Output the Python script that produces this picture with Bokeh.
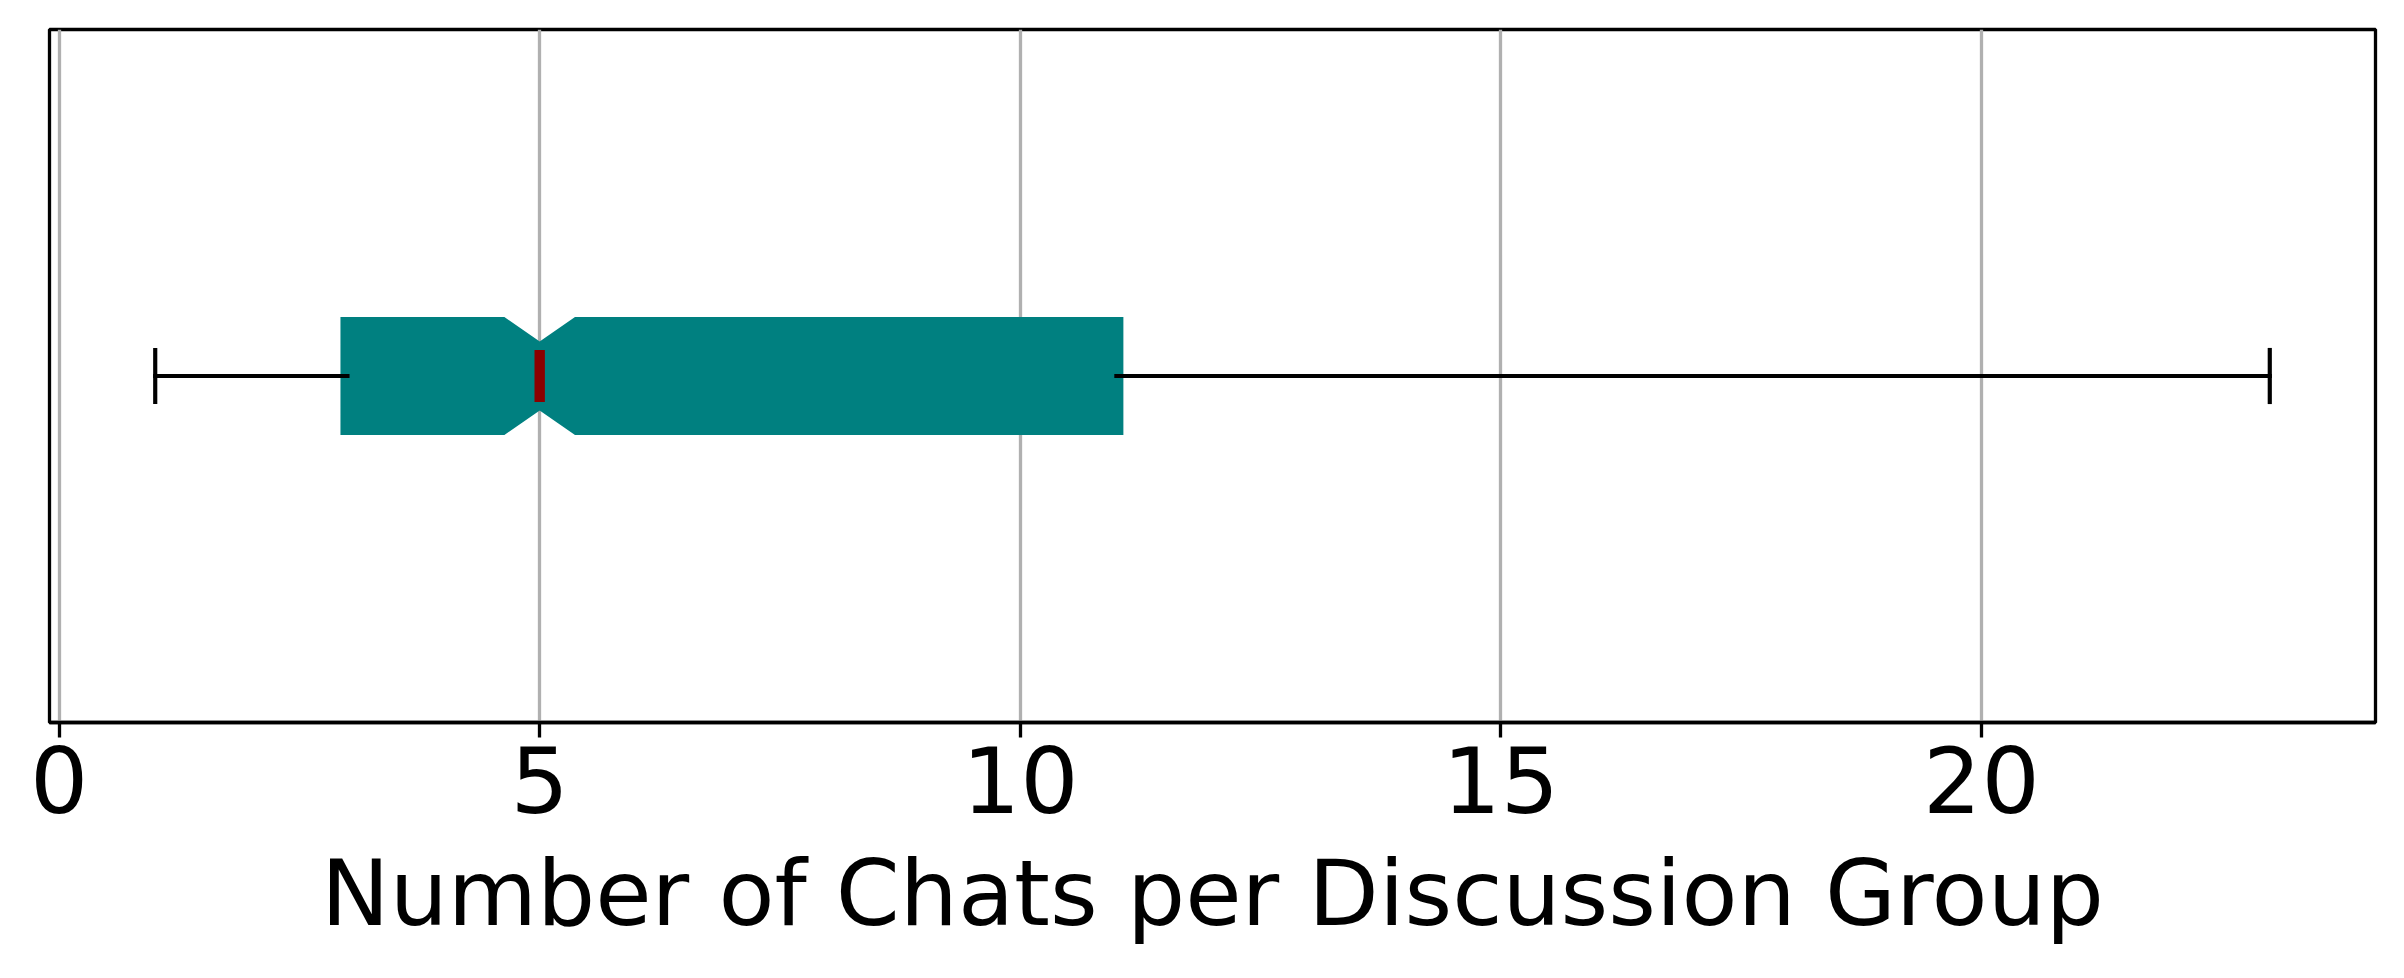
from bokeh.plotting import figure
from bokeh.models import Range1d, FixedTicker, ColumnDataSource
from bokeh.embed import file_html
from bokeh.resources import INLINE

# ---- data ----
positions = [1.0]
whisker_low = [1.0]
q1 = [3.0]
median = [5.0]
q3 = [11.0]
whisker_high = [23.0]
notch_low = [4.61]
notch_high = [5.39]
x_ticks = [0, 5, 10, 15, 20]
x_label = "Number of Chats per Discussion Group"

BOX_W = 0.15
HW = BOX_W / 2.0
QW = BOX_W / 4.0
FS = "91.67px"
FONT = "DejaVu Sans"

p = figure(width=2394, height=970,
           x_range=Range1d(-0.1, 24.1), y_range=Range1d(0.5, 1.5),
           output_backend="svg", toolbar_location=None,
           min_border_left=49, min_border_right=19,
           min_border_top=29, min_border_bottom=248)
p.background_fill_color = "white"
p.border_fill_color = "white"
p.outline_line_color = "black"
p.outline_line_width = 3.3
p.outline_line_alpha = 1.0

# notched box polygons built from the stats
xs, ys = [], []
for pos, a, lo, m, hi, b in zip(positions, q1, notch_low, median, notch_high, q3):
    xs.append([a, lo, m, hi, b, b, hi, m, lo, a])
    ys.append([pos - HW, pos - HW, pos - QW, pos - HW, pos - HW,
               pos + HW, pos + HW, pos + QW, pos + HW, pos + HW])
p.patches(xs=xs, ys=ys, fill_color="#008080", line_color="#008080",
          line_width=14, line_join="miter")

# whiskers
src = ColumnDataSource(dict(pos=positions, wl=whisker_low, q1=q1, med=median,
                            q3=q3, wh=whisker_high,
                            lo=[x - QW for x in positions],
                            hi=[x + QW for x in positions]))
p.segment(x0="q1", y0="pos", x1="wl", y1="pos", source=src,
          line_color="black", line_width=4.17, line_cap="square")
p.segment(x0="q3", y0="pos", x1="wh", y1="pos", source=src,
          line_color="black", line_width=4.17, line_cap="square")
# caps
p.segment(x0="wl", y0="lo", x1="wl", y1="hi", source=src,
          line_color="black", line_width=4.17, line_cap="square")
p.segment(x0="wh", y0="lo", x1="wh", y1="hi", source=src,
          line_color="black", line_width=4.17, line_cap="square")
# median
p.segment(x0="med", y0="lo", x1="med", y1="hi", source=src,
          line_color="#8B0000", line_width=10.4, line_cap="butt")

# grid
p.xgrid.ticker = FixedTicker(ticks=x_ticks)
p.xgrid.grid_line_color = "#b0b0b0"
p.xgrid.grid_line_width = 3.3
p.ygrid.visible = False

# axes
p.yaxis.visible = False
ax = p.xaxis[0]
ax.ticker = FixedTicker(ticks=x_ticks)
ax.axis_label = x_label
ax.axis_label_text_font = FONT
ax.axis_label_text_font_size = FS
ax.axis_label_text_font_style = "normal"
ax.axis_label_text_color = "black"
ax.axis_label_standoff = 24
ax.major_label_text_font = FONT
ax.major_label_text_font_size = FS
ax.major_label_text_color = "black"
ax.major_label_standoff = 8
ax.axis_line_color = "black"
ax.axis_line_width = 3.3
ax.major_tick_in = 0
ax.major_tick_out = 15
ax.major_tick_line_width = 3.3
ax.major_tick_line_color = "black"
ax.minor_tick_line_color = None

open("out.html", "w").write(file_html(p, INLINE))
